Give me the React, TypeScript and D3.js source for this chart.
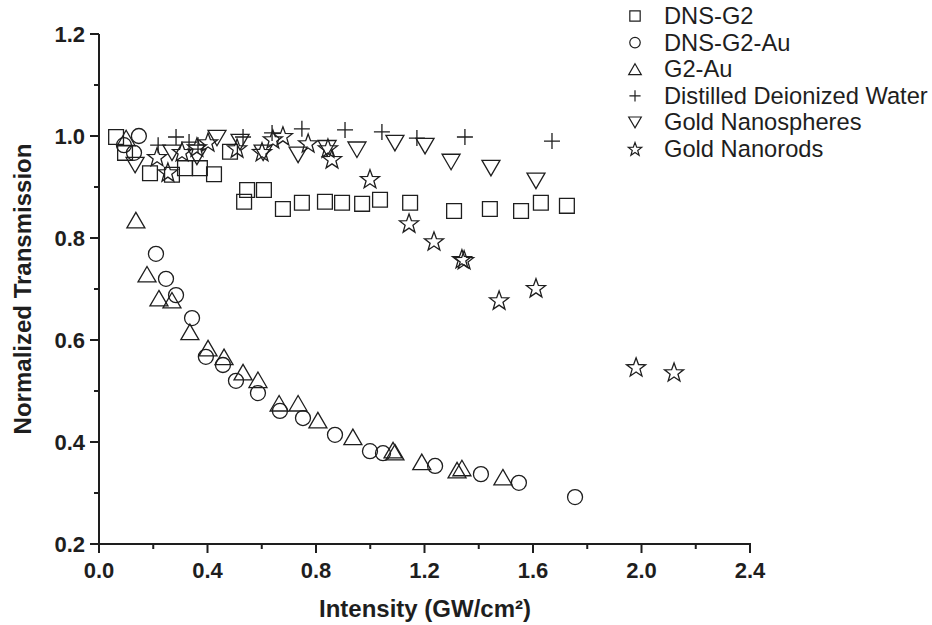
import React from "react";
import * as d3 from "d3";

const xTicks = [0, 0.4, 0.8, 1.2, 1.6, 2.0, 2.4];
const xMinor = [0.2, 0.6, 1.0, 1.4, 1.8, 2.2];
const yTicks = [0.2, 0.4, 0.6, 0.8, 1.0, 1.2];
const yMinor = [0.3, 0.5, 0.7, 0.9, 1.1];

const dnsG2X = [0.063, 0.096, 0.188, 0.269, 0.317, 0.372, 0.424, 0.483, 0.535, 0.546, 0.608, 0.678, 0.748, 0.833, 0.896, 0.970, 1.036, 1.147, 1.309, 1.441, 1.556, 1.629, 1.725];
const dnsG2Y = [0.998, 0.967, 0.927, 0.924, 0.937, 0.937, 0.925, 0.969, 0.871, 0.894, 0.894, 0.857, 0.869, 0.871, 0.869, 0.867, 0.875, 0.869, 0.853, 0.857, 0.853, 0.869, 0.863];

const dnsG2AuX = [0.092, 0.129, 0.147, 0.210, 0.247, 0.284, 0.343, 0.394, 0.457, 0.505, 0.586, 0.667, 0.752, 0.870, 0.999, 1.047, 1.239, 1.408, 1.548, 1.755];
const dnsG2AuY = [0.982, 0.967, 1.000, 0.769, 0.720, 0.688, 0.643, 0.567, 0.551, 0.520, 0.496, 0.461, 0.447, 0.414, 0.382, 0.378, 0.353, 0.337, 0.320, 0.292];

const g2AuX = [0.100, 0.136, 0.177, 0.221, 0.269, 0.335, 0.402, 0.461, 0.531, 0.586, 0.664, 0.734, 0.807, 0.936, 1.084, 1.091, 1.190, 1.320, 1.338, 1.489];
const g2AuY = [0.996, 0.835, 0.729, 0.682, 0.678, 0.616, 0.584, 0.567, 0.537, 0.522, 0.476, 0.476, 0.443, 0.410, 0.384, 0.380, 0.361, 0.345, 0.349, 0.331];

const waterX = [0.218, 0.284, 0.332, 0.365, 0.531, 0.638, 0.748, 0.907, 1.043, 1.172, 1.349, 1.670];
const waterY = [0.982, 0.998, 0.988, 0.982, 0.998, 1.006, 1.014, 1.012, 1.008, 0.996, 0.998, 0.990];

const spheresX = [0.133, 0.269, 0.361, 0.435, 0.520, 0.605, 0.734, 0.841, 0.951, 1.091, 1.202, 1.298, 1.445, 1.611];
const spheresY = [0.943, 0.967, 0.959, 0.996, 0.988, 0.967, 0.963, 0.976, 0.973, 0.986, 0.980, 0.949, 0.937, 0.912];

const rodsX = [0.214, 0.254, 0.306, 0.361, 0.402, 0.509, 0.601, 0.641, 0.678, 0.771, 0.844, 0.859, 0.999, 1.143, 1.235, 1.338, 1.346, 1.475, 1.611, 1.980, 2.120];
const rodsY = [0.959, 0.929, 0.969, 0.978, 0.988, 0.976, 0.969, 0.994, 1.000, 0.986, 0.976, 0.955, 0.916, 0.829, 0.794, 0.759, 0.757, 0.678, 0.702, 0.547, 0.537];

const seriesNames = ["DNS-G2", "DNS-G2-Au", "G2-Au", "Distilled Deionized Water", "Gold Nanospheres", "Gold Nanorods"];
const seriesTypes = ["square", "circle", "triangle", "plus", "tridown", "star"];
const seriesXs = [dnsG2X, dnsG2AuX, g2AuX, waterX, spheresX, rodsX];
const seriesYs = [dnsG2Y, dnsG2AuY, g2AuY, waterY, spheresY, rodsY];

function markerPath(type: string, s: number): string {
  const p = d3.path();
  if (type === "square") {
    const h = 7.4 * s;
    p.rect(-h, -h, 2 * h, 2 * h);
  } else if (type === "circle") {
    const r = 7.5 * s;
    p.moveTo(r, 0);
    p.arc(0, 0, r, 0, Math.PI * 2);
    p.closePath();
  } else if (type === "triangle") {
    const w = 9 * s, h = 15.5 * s;
    p.moveTo(0, -h / 2);
    p.lineTo(w, h / 2);
    p.lineTo(-w, h / 2);
    p.closePath();
  } else if (type === "tridown") {
    const w = 9 * s, h = 15.5 * s;
    p.moveTo(0, h / 2);
    p.lineTo(w, -h / 2);
    p.lineTo(-w, -h / 2);
    p.closePath();
  } else if (type === "plus") {
    const a = 8 * s;
    p.moveTo(-a, 0);
    p.lineTo(a, 0);
    p.moveTo(0, -a);
    p.lineTo(0, a);
  } else if (type === "star") {
    const ro = 10 * s, ri = 4.1 * s;
    for (let i = 0; i < 10; i++) {
      const r = i % 2 === 0 ? ro : ri;
      const ang = -Math.PI / 2 + (i * Math.PI) / 5;
      const px = r * Math.cos(ang), py = r * Math.sin(ang) + 0.8 * s;
      if (i === 0) p.moveTo(px, py);
      else p.lineTo(px, py);
    }
    p.closePath();
  }
  return p.toString();
}

export default function App() {
  const x = d3.scaleLinear().domain([0, 2.4]).range([99, 750]);
  const y = d3.scaleLinear().domain([0.2, 1.2]).range([544, 34]);
  const ink = "#1e1e1e";
  const font = "'Liberation Sans', Arial, Helvetica, sans-serif";

  return (
    <svg width={932} height={625} style={{ position: "absolute", left: 0, top: 0, background: "#fff" }} fontFamily={font}>
      {/* data */}
      {seriesTypes.map((t, si) => (
        <g key={si} fill="none" stroke={ink} strokeWidth={1.3}>
          {seriesXs[si].map((v, i) => (
            <path key={i} d={markerPath(t, 1)} transform={`translate(${x(v)},${y(seriesYs[si][i])})`} />
          ))}
        </g>
      ))}

      {/* axes */}
      <g stroke={ink} strokeWidth={2} fill="none">
        <line x1={x(0)} x2={x(0)} y1={y(1.2)} y2={y(0.2) + 1} />
        <line x1={x(0) - 1} x2={x(2.4) + 1} y1={y(0.2)} y2={y(0.2)} />
        {yTicks.map((v) => (
          <line key={"yt" + v} x1={x(0) - 9} x2={x(0)} y1={y(v)} y2={y(v)} />
        ))}
        {yMinor.map((v) => (
          <line key={"ym" + v} x1={x(0) - 5} x2={x(0)} y1={y(v)} y2={y(v)} />
        ))}
        {xTicks.map((v) => (
          <line key={"xt" + v} x1={x(v)} x2={x(v)} y1={y(0.2)} y2={y(0.2) + 9} />
        ))}
        {xMinor.map((v) => (
          <line key={"xm" + v} x1={x(v)} x2={x(v)} y1={y(0.2)} y2={y(0.2) + 5} />
        ))}
      </g>

      {/* tick labels */}
      <g fill={ink} fontWeight="bold" fontSize={22}>
        {yTicks.map((v) => (
          <text key={"yl" + v} x={x(0) - 14} y={y(v) + 8} textAnchor="end">
            {d3.format(".1f")(v)}
          </text>
        ))}
        {xTicks.map((v) => (
          <text key={"xl" + v} x={x(v)} y={578} textAnchor="middle">
            {d3.format(".1f")(v)}
          </text>
        ))}
      </g>

      {/* axis titles */}
      <text x={425} y={617} textAnchor="middle" fontWeight="bold" fontSize={24} fill={ink}>
        Intensity (GW/cm²)
      </text>
      <text transform={`translate(31,289) rotate(-90)`} textAnchor="middle" fontWeight="bold" fontSize={24} fill={ink}>
        Normalized Transmission
      </text>

      {/* legend */}
      <g>
        {seriesNames.map((name, i) => {
          const cy = 16 + i * 26.6;
          return (
            <g key={name}>
              <path d={markerPath(seriesTypes[i], 0.7)} transform={`translate(635,${cy})`} fill="none" stroke={ink} strokeWidth={1.2} />
              <text x={664} y={cy + 8} fontSize={23.7} fill={ink}>
                {name}
              </text>
            </g>
          );
        })}
      </g>
    </svg>
  );
}
